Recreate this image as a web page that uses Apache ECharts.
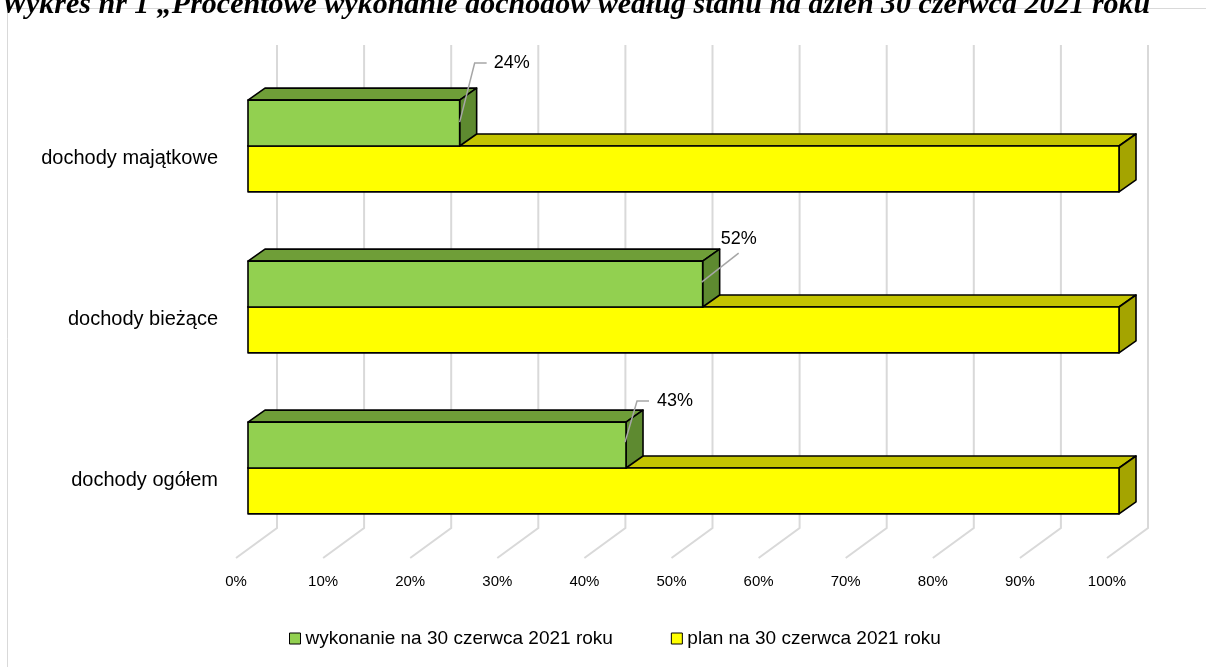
<!DOCTYPE html>
<html>
<head>
<meta charset="utf-8">
<script src="https://cdn.jsdelivr.net/npm/echarts@6/dist/echarts.min.js"></script>
<style>
html,body{margin:0;padding:0;background:#fff;}
#c{width:1206px;height:667px;}
</style>
</head>
<body>
<div id="c"></div>
<script>
// ---- data ----
const titleText = 'Wykres nr 1 „Procentowe wykonanie dochodów według stanu na dzień 30 czerwca 2021 roku';
const categories = ['dochody ogółem', 'dochody bieżące', 'dochody majątkowe'];
const seriesNames = ['wykonanie na 30 czerwca 2021 roku', 'plan na 30 czerwca 2021 roku'];
const wykonanie = [43.4, 52.2, 24.3];
const plan = [100, 100, 100];
const tickValues = [0, 10, 20, 30, 40, 50, 60, 70, 80, 90, 100];
const wykonanieLabels = ['43%', '52%', '24%'];

// ---- style ----
const DEPTH = [17, 12];        // bar depth offset (dx, -dy)
const WALL = [29, 20.5];       // back wall offset relative to front plane
const FLOOR = [41, 30];        // floor depth
const greenCol = { front: '#92D050', top: '#6F9E38', side: '#5E8A30' };
const yellowCol = { front: '#FFFF00', top: '#C4C400', side: '#A4A400' };
// leader-line layouts for labels (relative to bar front top-right corner)
const leaderLayout = [
  { pts: [[-1, 20], [11, -21], [23, -21]], text: [31, -21] },
  { pts: [[-1, 21], [36, -8]], text: [18, -22] },
  { pts: [[0, 22], [15, -37], [27, -37]], text: [34, -37] }
];

function boxShapes(x0, x1, y0, y1, col) {
  const dx = DEPTH[0], dy = DEPTH[1];
  const st = { stroke: '#000', lineWidth: 1.6, lineJoin: 'round' };
  return [
    { type: 'polygon', shape: { points: [[x0, y0], [x0 + dx, y0 - dy], [x1 + dx, y0 - dy], [x1, y0]] },
      style: Object.assign({ fill: col.top }, st) },
    { type: 'polygon', shape: { points: [[x1, y0], [x1 + dx, y0 - dy], [x1 + dx, y1 - dy], [x1, y1]] },
      style: Object.assign({ fill: col.side }, st) },
    { type: 'rect', shape: { x: x0, y: y0, width: x1 - x0, height: y1 - y0 },
      style: Object.assign({ fill: col.front }, st) }
  ];
}

function makeBarRender(upper, col, withLabel) {
  return function (params, api) {
    const cat = api.value(0);
    const val = api.value(1);
    const p0 = api.coord([0, cat]);
    const p1 = api.coord([val, cat]);
    const band = api.size([0, 1])[1];
    const h = band * 0.285;
    const yc = p0[1];
    const y0 = upper ? yc - h : yc;
    const y1 = y0 + h;
    const children = boxShapes(p0[0], p1[0], y0, y1, col);
    if (withLabel) {
      const L = leaderLayout[params.dataIndex];
      children.push({
        type: 'polyline',
        shape: { points: L.pts.map(q => [p1[0] + q[0], y0 + q[1]]) },
        style: { stroke: '#A6A6A6', lineWidth: 1.5, fill: null },
        z2: 10
      });
      children.push({
        type: 'text',
        x: p1[0] + L.text[0], y: y0 + L.text[1],
        style: { text: wykonanieLabels[params.dataIndex], fill: '#000',
          font: '18px "Liberation Sans", Arial, sans-serif', verticalAlign: 'middle', align: 'left' },
        z2: 10
      });
    }
    return { type: 'group', children: children };
  };
}

const chart = echarts.init(document.getElementById('c'), null, { renderer: 'canvas' });

const option = {
  backgroundColor: '#fff',
  animation: false,
  textStyle: { fontFamily: '"Liberation Sans", Arial, sans-serif' },
  graphic: [
    { type: 'rect', shape: { x: 7.5, y: 8.5, width: 1220, height: 700 },
      style: { fill: null, stroke: '#D9D9D9', lineWidth: 1 }, z: -10 },
    { type: 'text', left: 1, top: -10,
      style: { text: titleText, fill: '#000',
        font: 'italic bold 30px "Liberation Serif", "Times New Roman", serif' } }
  ],
  grid: { left: 248, right: 87, top: 65.5, height: 483 },
  xAxis: {
    type: 'value', min: 0, max: 100, interval: 10,
    axisLine: { show: false }, axisTick: { show: false }, splitLine: { show: false },
    axisLabel: { formatter: '{value}%', fontSize: 15, color: '#000', margin: 26, padding: [0, 24, 0, 0] }
  },
  yAxis: {
    type: 'category', data: categories,
    axisLine: { show: false }, axisTick: { show: false }, splitLine: { show: false },
    axisLabel: { fontSize: 20, lineHeight: 24, color: '#000', margin: 30,
      formatter: function (v) { return '\n' + v; } }
  },
  legend: {
    data: seriesNames,
    left: 284, top: 624,
    icon: 'rect', itemWidth: 11, itemHeight: 11, itemGap: 58,
    itemStyle: { borderColor: '#000', borderWidth: 1 },
    textStyle: { fontSize: 19, color: '#000' },
    selectedMode: false
  },
  series: [
    {
      type: 'custom', name: 'grid', silent: true, z: 1,
      data: tickValues.map(v => [v]),
      encode: { x: 0 },
      renderItem: function (params, api) {
        const cs = params.coordSys;
        const x = api.coord([api.value(0), 0])[0] + WALL[0];
        const yTop = cs.y - WALL[1];
        const yBot = cs.y + cs.height - WALL[1];
        return {
          type: 'polyline',
          shape: { points: [[x, yTop], [x, yBot], [x - FLOOR[0], yBot + FLOOR[1]]] },
          style: { stroke: '#D9D9D9', lineWidth: 2, fill: null }
        };
      }
    },
    {
      type: 'custom', name: seriesNames[1], z: 2,
      itemStyle: { color: yellowCol.front },
      data: plan.map((v, i) => [i, v]),
      encode: { y: 0, x: 1 },
      renderItem: makeBarRender(false, yellowCol, false)
    },
    {
      type: 'custom', name: seriesNames[0], z: 3,
      itemStyle: { color: greenCol.front },
      data: wykonanie.map((v, i) => [i, v]),
      encode: { y: 0, x: 1 },
      renderItem: makeBarRender(true, greenCol, true)
    }
  ]
};
chart.setOption(option);
</script>
</body>
</html>
